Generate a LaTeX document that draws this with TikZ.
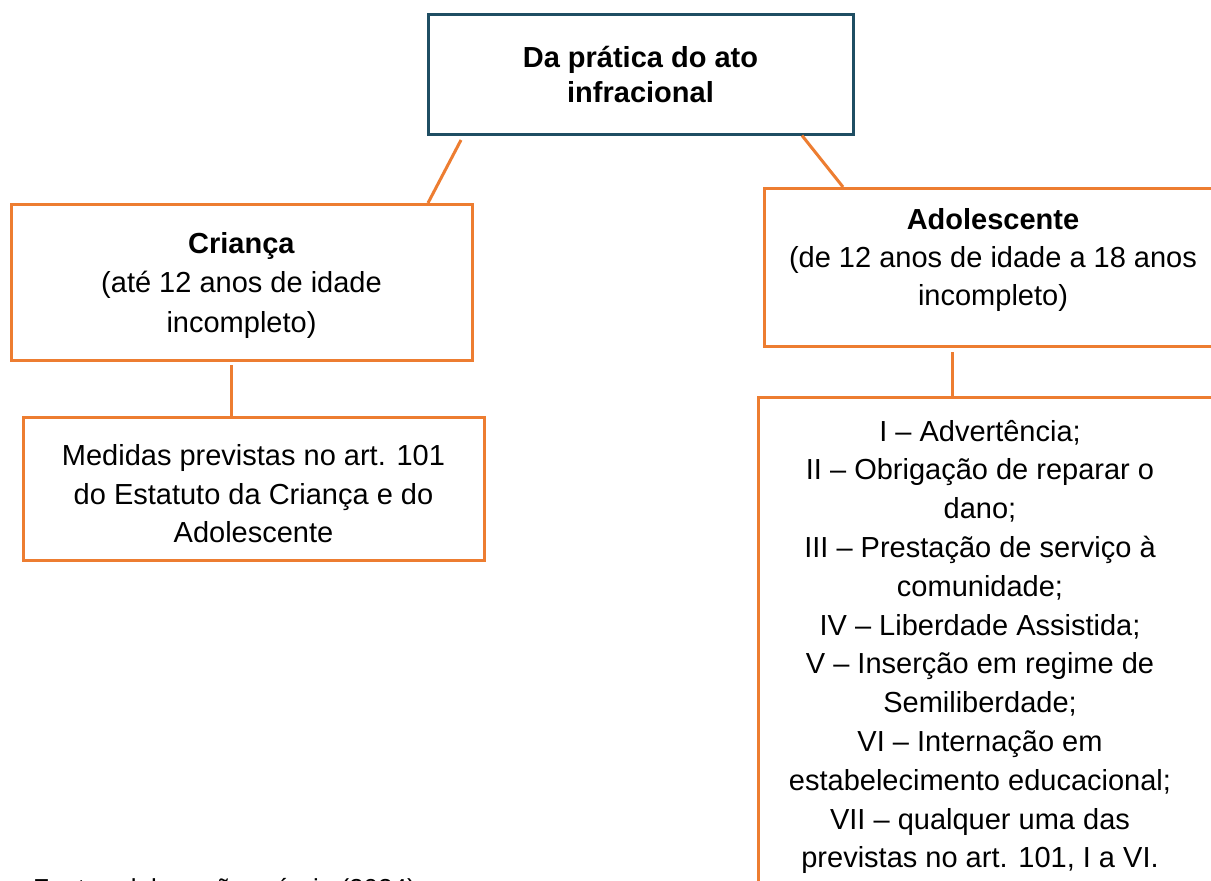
\documentclass[tikz,border=0pt]{standalone}
\usepackage{fontspec}
\setmainfont{Liberation Sans}
\usetikzlibrary{calc}
\definecolor{orng}{HTML}{ED7D31}
\definecolor{navy}{RGB}{31,78,99}
\begin{document}
\begin{tikzpicture}[x=1pt,y=-1pt,
  obox/.style={draw=orng, line width=3pt, inner sep=0pt},
  nbox/.style={draw=navy, line width=3pt, inner sep=0pt},
  conn/.style={draw=orng, line width=3pt},
  txt/.style={align=center, inner sep=0pt, text=black}]
\clip (0,0) rectangle (1211,881);
\fill[white] (0,0) rectangle (1211,881);

% boxes
\node[nbox, minimum width=425pt, minimum height=120pt] (top) at (640.5,74) {};
\node[obox, minimum width=461pt, minimum height=156pt] (cri) at (241.5,282) {};
\node[obox, minimum width=461pt, minimum height=143pt] (med) at (253.5,488.5) {};
\node[obox, minimum width=458pt, minimum height=158pt] (ado) at (993,267) {};
\node[obox, minimum width=464pt, minimum height=503pt] (lst) at (990,648.5) {};

% texts
\node[txt, font={\fontsize{29}{35}\selectfont\bfseries}] (toptxt) at (640.5,75)
  {Da prática do ato\\infracional};
\node[txt, font={\fontsize{29}{39.5}\selectfont}] (critxt) at (241.5,285)
  {\textbf{Criança}\\(até 12 anos de idade\\incompleto)};
\node[txt, font={\fontsize{29}{38.5}\selectfont}] (medtxt) at (253.5,494)
  {Medidas previstas no art. 101\\do Estatuto da Criança e do\\Adolescente};
\node[txt, font={\fontsize{29}{38}\selectfont}] (adotxt) at (993,260)
  {\textbf{Adolescente}\\(de 12 anos de idade a 18 anos\\incompleto)};
\node[txt, font={\fontsize{29}{38.8}\selectfont}] (lsttxt) at (980,647)
  {I – Advertência;\\II – Obrigação de reparar o\\dano;\\III – Prestação de serviço à\\comunidade;\\IV – Liberdade Assistida;\\V – Inserção em regime de\\Semiliberdade;\\VI – Internação em\\estabelecimento educacional;\\VII – qualquer uma das\\previstas no art. 101, I a VI.};
\node[anchor=base west, inner sep=0pt, font={\fontsize{26}{30}\selectfont}] (fonte) at (33,897)
  {Fonte: elaboração própria (2024).};

% connectors
\draw[conn] ($(top.south west)+(34.5,4.5)$) -- ($(cri.north)+(186.5,0.5)$);
\draw[conn] ($(top.south east)+(-52.5,0)$) -- ($(ado.north west)+(80.5,0.5)$);
\draw[conn] ($(cri.south)+(-10.5,3.5)$) -- ($(med.north)+(-22.5,1.5)$);
\draw[conn] ($(ado.south)+(-41,4.5)$) -- ($(lst.north)+(-38,1.5)$);
\end{tikzpicture}
\end{document}
